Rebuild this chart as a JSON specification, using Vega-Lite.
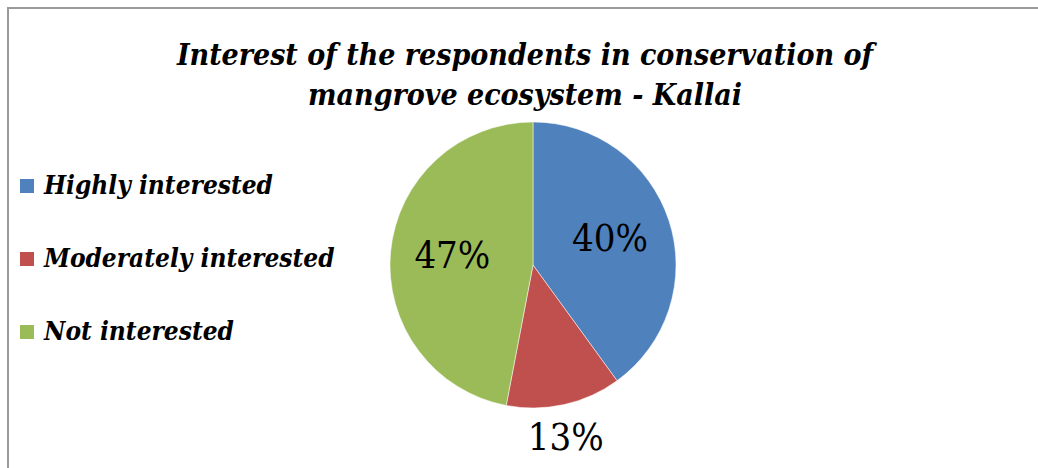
{
  "$schema": "https://vega.github.io/schema/vega-lite/v6.json",
  "autosize": "none",
  "padding": {"left": 8, "top": 8, "right": 0, "bottom": 0},
  "width": 1050,
  "height": 514,
  "background": "white",
  "view": {"stroke": "#9a9a9a", "strokeWidth": 2},
  "config": {
    "view": {"stroke": "#9a9a9a", "strokeWidth": 2},
    "font": "DejaVu Serif"
  },
  "title": {
    "text": ["Interest of the respondents in conservation of", "mangrove ecosystem - Kallai"],
    "anchor": "middle",
    "frame": "group",
    "font": "DejaVu Serif Condensed",
    "fontSize": 30,
    "fontStyle": "italic",
    "fontWeight": "bold",
    "color": "black",
    "lineHeight": 40,
    "baseline": "alphabetic",
    "offset": -127,
    "dx": -8
  },
  "data": {
    "values": [
      {"Interest": "Highly interested", "Percent": 40, "Label": "40%"},
      {"Interest": "Moderately interested", "Percent": 13, "Label": "13%"},
      {"Interest": "Not interested", "Percent": 47, "Label": "47%"}
    ]
  },
  "encoding": {
    "theta": {"field": "Percent", "type": "quantitative", "stack": true},
    "order": {"field": "Interest", "type": "ordinal", "sort": "ascending"}
  },
  "layer": [
    {
      "mark": {"type": "arc", "outerRadius": 143, "stroke": "white", "strokeWidth": 0.5},
      "encoding": {
        "color": {
          "field": "Interest",
          "type": "nominal",
          "scale": {
            "domain": ["Highly interested", "Moderately interested", "Not interested"],
            "range": ["#4F81BD", "#C0504D", "#9BBB59"]
          },
          "legend": {
            "title": null,
            "orient": "none",
            "legendX": 6,
            "legendY": 165,
            "padding": 0,
            "symbolType": "square",
            "symbolSize": 196,
            "symbolStrokeWidth": 0,
            "labelFont": "DejaVu Serif Condensed",
            "labelFontSize": 26,
            "labelFontStyle": "italic",
            "labelFontWeight": "bold",
            "labelColor": "black",
            "labelOffset": 4,
            "labelLimit": 400,
            "rowPadding": 47
          }
        }
      }
    },
    {
      "mark": {"type": "text", "radius": 81, "font": "DejaVu Serif Condensed", "fontSize": 38, "color": "black", "baseline": "middle"},
      "encoding": {
        "text": {"field": "Label"},
        "opacity": {"condition": {"test": "datum.Interest === 'Moderately interested'", "value": 0}, "value": 1}
      }
    },
    {
      "mark": {"type": "text", "radius": 178, "dx": -6, "font": "DejaVu Serif Condensed", "fontSize": 38, "color": "black", "baseline": "middle"},
      "encoding": {
        "text": {"field": "Label"},
        "opacity": {"condition": {"test": "datum.Interest === 'Moderately interested'", "value": 1}, "value": 0}
      }
    }
  ]
}
